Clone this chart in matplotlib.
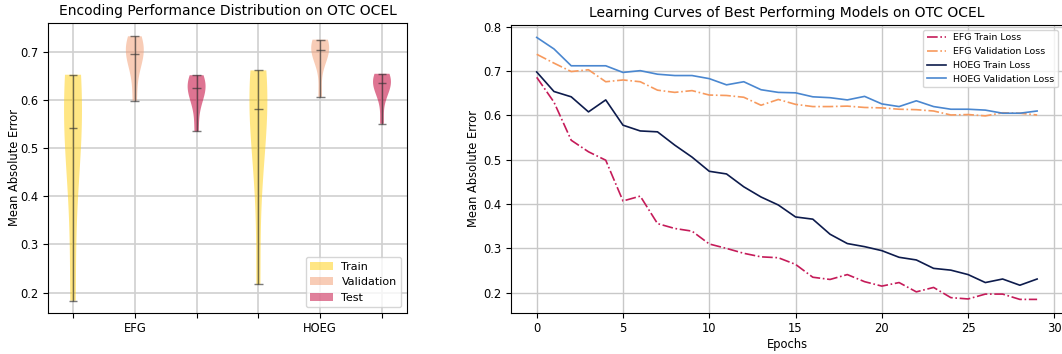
import numpy as np
import matplotlib.pyplot as plt

plt.rcParams['font.size'] = 8.3

# violin samples (min / median / max and bulk of each)
efg_train = [0.183, 0.50, 0.542, 0.63, 0.653]
efg_val = [0.599, 0.66, 0.69, 0.696, 0.71, 0.72, 0.733]
efg_test = [0.535, 0.59, 0.615, 0.625, 0.632, 0.64, 0.652]
hoeg_train = [0.217, 0.45, 0.54, 0.582, 0.63, 0.65, 0.662]
hoeg_val = [0.607, 0.68, 0.70, 0.705, 0.712, 0.72, 0.726]
hoeg_test = [0.551, 0.61, 0.628, 0.636, 0.642, 0.648, 0.655]

encodings = ['EFG', 'HOEG']
splits = ['Train', 'Validation', 'Test']
split_colors = ['#FFD21F', '#F4A27A', '#C8184A']

# learning curves
epochs = list(range(30))
efg_train_loss = [0.686, 0.630, 0.544, 0.518, 0.499, 0.407, 0.418, 0.356, 0.345, 0.339,
                  0.310, 0.300, 0.289, 0.281, 0.279, 0.264, 0.235, 0.230, 0.241, 0.225,
                  0.215, 0.223, 0.202, 0.212, 0.189, 0.186, 0.197, 0.197, 0.185, 0.185]
efg_val_loss = [0.738, 0.718, 0.699, 0.703, 0.676, 0.680, 0.676, 0.657, 0.652, 0.656,
                0.646, 0.645, 0.641, 0.623, 0.636, 0.625, 0.620, 0.620, 0.621, 0.618,
                0.617, 0.614, 0.613, 0.610, 0.601, 0.602, 0.599, 0.606, 0.605, 0.601]
hoeg_train_loss = [0.698, 0.654, 0.642, 0.608, 0.635, 0.578, 0.565, 0.563, 0.533, 0.506,
                   0.474, 0.468, 0.439, 0.416, 0.398, 0.371, 0.366, 0.332, 0.311, 0.304,
                   0.295, 0.280, 0.274, 0.255, 0.251, 0.241, 0.223, 0.231, 0.217, 0.231]
hoeg_val_loss = [0.776, 0.750, 0.712, 0.712, 0.712, 0.697, 0.701, 0.693, 0.690, 0.690,
                 0.683, 0.669, 0.676, 0.658, 0.652, 0.651, 0.642, 0.640, 0.635, 0.643,
                 0.626, 0.620, 0.633, 0.620, 0.614, 0.614, 0.612, 0.605, 0.605, 0.610]

fig = plt.figure(figsize=(10.62, 3.54), dpi=100)
ax1 = fig.add_axes([48.3 / 1062, 41.3 / 354, 358.4 / 1062, 289.4 / 354])
ax2 = fig.add_axes([511 / 1062, 41.3 / 354, 552 / 1062, 287.7 / 354])

# --- left: violins
groups = [efg_train, efg_val, efg_test, hoeg_train, hoeg_val, hoeg_test]
positions = [1, 2, 3, 4, 5, 6]
vp = ax1.violinplot(groups, positions=positions, widths=0.29, showmedians=True)
for i, body in enumerate(vp['bodies']):
    body.set_facecolor(split_colors[i % 3])
    body.set_edgecolor('none')
    body.set_alpha(0.55 if i % 3 < 2 else 0.6)
for key in ['cmins', 'cmaxes', 'cbars', 'cmedians']:
    vp[key].set_color('#333333')
    vp[key].set_alpha(0.65)
    vp[key].set_linewidth(1.0)

ax1.set_xticks(positions)
ax1.set_xticklabels(['', encodings[0], '', '', encodings[1], ''])
ax1.set_xlim(0.6, 6.4)
ax1.set_ylim(0.158, 0.760)
ax1.set_ylabel('Mean Absolute Error')
ax1.yaxis.set_label_coords(-0.076, 0.5)
ax1.set_title('Encoding Performance Distribution on OTC OCEL', fontsize=10)
ax1.grid(True, color='#d0d0d0', linewidth=1.2)
ax1.set_axisbelow(True)
handles = [plt.Rectangle((0, 0), 1, 1, color=c, alpha=0.55, linewidth=0) for c in split_colors]
ax1.legend(handles, splits, loc='lower right', fontsize=8)

# --- right: learning curves
ax2.plot(epochs, efg_train_loss, linestyle='-.', color='#C51B59', linewidth=1.2, label='EFG Train Loss')
ax2.plot(epochs, efg_val_loss, linestyle='-.', color='#F79A5E', linewidth=1.2, label='EFG Validation Loss')
ax2.plot(epochs, hoeg_train_loss, color='#0D1B4C', linewidth=1.2, label='HOEG Train Loss')
ax2.plot(epochs, hoeg_val_loss, color='#4A87D0', linewidth=1.2, label='HOEG Validation Loss')
ax2.set_xlim(-1.49, 30.5)
ax2.set_ylim(0.155, 0.804)
ax2.set_xlabel('Epochs', labelpad=2)
ax2.set_ylabel('Mean Absolute Error')
ax2.yaxis.set_label_coords(-0.056, 0.5)
ax2.set_title('Learning Curves of Best Performing Models on OTC OCEL', fontsize=10)
ax2.grid(True, color='#c8c8c8', linewidth=1.0)
ax2.set_axisbelow(True)
ax2.legend(loc='upper right', fontsize=6.8)

fig.savefig('out.png', dpi=100)
